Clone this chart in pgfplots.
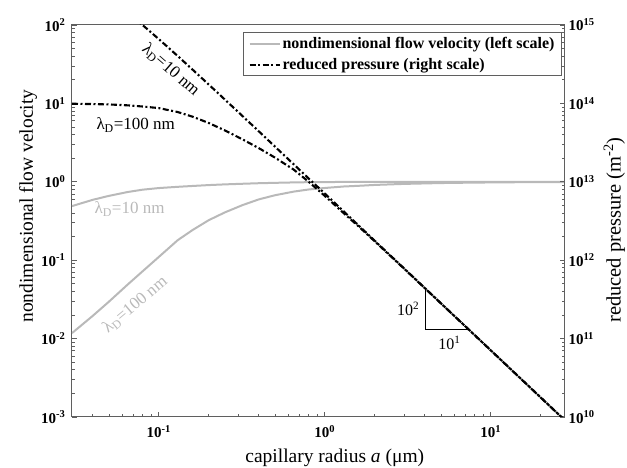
\documentclass[border=0pt]{standalone}
\usepackage{fontspec}
\setmainfont{Liberation Serif}
\usepackage{pgfplots}
\pgfplotsset{compat=1.18}

\definecolor{velgray}{RGB}{185,185,185}
\definecolor{framegray}{RGB}{95,95,95}

\newcommand{\tl}[1]{\textbf{10\textsuperscript{#1}}}
\newcommand{\lD}{λ\textsubscript{D}}

\tikzset{dashdot/.style={black, line width=2.1pt, dash pattern=on 6pt off 2.5pt on 2pt off 2.5pt}}

\begin{document}
\begin{tikzpicture}
\path[use as bounding box] (-72pt,-51pt) rectangle (555pt,417pt);

% left scale: flow velocity
\begin{axis}[
  scale only axis, width=493pt, height=392pt,
  xmode=log, ymode=log, xmin=0.03, xmax=28,
  axis line style={framegray, line width=1pt},
  tick style={framegray, line width=0.6pt},
  major tick length=5pt, minor tick length=3pt,
  tick align=inside,
  ticklabel style={font=\fontsize{15}{17}\selectfont},
  label style={font=\fontsize{19.5}{22}\selectfont},
  ymin=1e-3, ymax=1e2,
  xtick={0.1,1,10}, xticklabels={\tl{-1},\tl{0},\tl{1}},
  minor xtick={0.04,0.05,0.06,0.07,0.08,0.09,0.2,0.3,0.4,0.5,0.6,0.7,0.8,0.9,2,3,4,5,6,7,8,9,20},
  ytick={1e-3,1e-2,1e-1,1,1e1,1e2},
  yticklabels={\tl{-3},\tl{-2},\tl{-1},\tl{0},\tl{1},\tl{2}},
  minor ytick={2e-3,3e-3,4e-3,5e-3,6e-3,7e-3,8e-3,9e-3,
               2e-2,3e-2,4e-2,5e-2,6e-2,7e-2,8e-2,9e-2,
               0.2,0.3,0.4,0.5,0.6,0.7,0.8,0.9,
               2,3,4,5,6,7,8,9,20,30,40,50,60,70,80,90},
  xtick pos=bottom, ytick pos=left,
  xticklabel style={yshift=-5pt},
  yticklabel style={xshift=-3pt},
  xlabel={capillary radius \textit{a} (μm)},
  ylabel={nondimensional flow velocity},
  xlabel style={at={(axis description cs:0.533,-0.105)}, anchor=center},
  ylabel style={at={(axis description cs:-0.089,0.538)}, anchor=center},
]
% lambda_D = 10 nm
\addplot[velgray, line width=2pt] coordinates {
  (0.03,0.49) (0.04,0.589) (0.05,0.661) (0.065,0.741) (0.08,0.794) (0.1,0.832)
  (0.13,0.863) (0.16,0.885) (0.2,0.908) (0.25,0.927) (0.32,0.944) (0.4,0.959)
  (0.5,0.970) (0.65,0.982) (0.8,0.989) (1,0.993) (1.3,0.995) (2,0.997)
  (5,0.999) (28,1.0)};
% lambda_D = 100 nm
\addplot[velgray, line width=2pt] coordinates {
  (0.03,0.01175) (0.04,0.0195) (0.05,0.0295) (0.065,0.049) (0.08,0.0724)
  (0.1,0.110) (0.13,0.180) (0.16,0.243) (0.2,0.324) (0.25,0.407) (0.32,0.505)
  (0.4,0.596) (0.5,0.673) (0.65,0.750) (0.8,0.798) (1,0.834) (1.3,0.871)
  (1.6,0.889) (2,0.912) (3,0.940) (5,0.964) (8,0.977) (13,0.986) (20,0.991)
  (28,0.993)};
\node[velgray, font=\fontsize{17}{19}\selectfont] at (axis cs:0.0667,0.45) {\lD=10 nm};
\node[velgray, rotate=40, font=\fontsize{17}{19}\selectfont] at (axis cs:0.072,0.027) {\lD=100 nm};
\end{axis}

% right scale: reduced pressure
\begin{axis}[
  scale only axis, width=493pt, height=392pt,
  xmode=log, ymode=log, xmin=0.03, xmax=28,
  axis line style={framegray, line width=1pt},
  tick style={framegray, line width=0.6pt},
  major tick length=5pt, minor tick length=3pt,
  tick align=inside,
  ticklabel style={font=\fontsize{15}{17}\selectfont},
  ymin=1e10, ymax=1e15,
  axis x line=none, axis y line*=right,
  ytick={1e10,1e11,1e12,1e13,1e14,1e15},
  yticklabels={\tl{10},\tl{11},\tl{12},\tl{13},\tl{14},\tl{15}},
  minor ytick={2e10,3e10,4e10,5e10,6e10,7e10,8e10,9e10,
               2e11,3e11,4e11,5e11,6e11,7e11,8e11,9e11,
               2e12,3e12,4e12,5e12,6e12,7e12,8e12,9e12,
               2e13,3e13,4e13,5e13,6e13,7e13,8e13,9e13,
               2e14,3e14,4e14,5e14,6e14,7e14,8e14,9e14},
  ylabel={reduced pressure (m\textsuperscript{-2})},
  ylabel style={at={(axis description cs:1.100,0.477)}, anchor=center, rotate=0,
    font=\fontsize{20.5}{23}\selectfont},
  legend image code/.code={\draw[#1] (0pt,0pt) -- (30pt,0pt);},
  legend style={at={(axis description cs:0.994,0.982)}, anchor=north east,
    draw=framegray, line width=1pt, fill=white,
    font=\fontsize{16}{18}\selectfont\bfseries,
    inner xsep=5pt, inner ysep=3pt, row sep=4pt, cells={anchor=west}},
]
\addlegendimage{velgray, line width=2pt}
\addlegendentry{nondimensional flow velocity (left scale)}
% lambda_D = 10 nm
\addplot[dashdot] coordinates {
  (0.07,1.26e15) (0.08,9.95e14) (0.1,6.61e14) (0.13,4.02e14) (0.16,2.69e14)
  (0.2,1.74e14) (0.25,1.12e14) (0.32,6.87e13) (0.4,4.41e13) (0.5,2.82e13)
  (0.65,1.67e13) (0.8,1.10e13) (1,7.08e12) (1.3,4.19e12) (1.6,2.77e12)
  (2,1.77e12) (3,7.87e11) (5,2.83e11) (8,1.107e11) (13,4.19e10) (20,1.77e10)
  (28,9.04e9)};
\addlegendentry{reduced pressure (right scale)}
% lambda_D = 100 nm
\addplot[dashdot, forget plot] coordinates {
  (0.03,9.9e13) (0.04,9.8e13) (0.05,9.7e13) (0.065,9.44e13) (0.08,9.12e13)
  (0.1,8.71e13) (0.13,7.76e13) (0.16,6.76e13) (0.2,5.62e13) (0.25,4.52e13)
  (0.32,3.47e13) (0.4,2.69e13) (0.5,2.04e13) (0.65,1.43e13) (0.8,1.0e13)
  (1,6.61e12) (1.3,3.98e12) (1.6,2.69e12) (2,1.74e12) (3,7.82e11) (5,2.82e11)
  (8,1.107e11) (13,4.19e10) (20,1.77e10) (28,9.04e9)};
% slope triangle
\addplot[black, line width=1.3pt, forget plot] coordinates {
  (4.04,4.35e11) (4.04,1.3e11) (7.38,1.3e11)};
\node[font=\fontsize{16}{18}\selectfont] at (axis cs:3.18,2.39e11) {10\textsuperscript{2}};
\node[font=\fontsize{16}{18}\selectfont] at (axis cs:5.64,8.8e10) {10\textsuperscript{1}};
\node[rotate=-41, font=\fontsize{17}{19}\selectfont] at (axis cs:0.118,2.67e14) {\lD=10 nm};
\node[font=\fontsize{17}{19}\selectfont] at (axis cs:0.0726,5.3e13) {\lD=100 nm};
\end{axis}
\end{tikzpicture}
\end{document}
